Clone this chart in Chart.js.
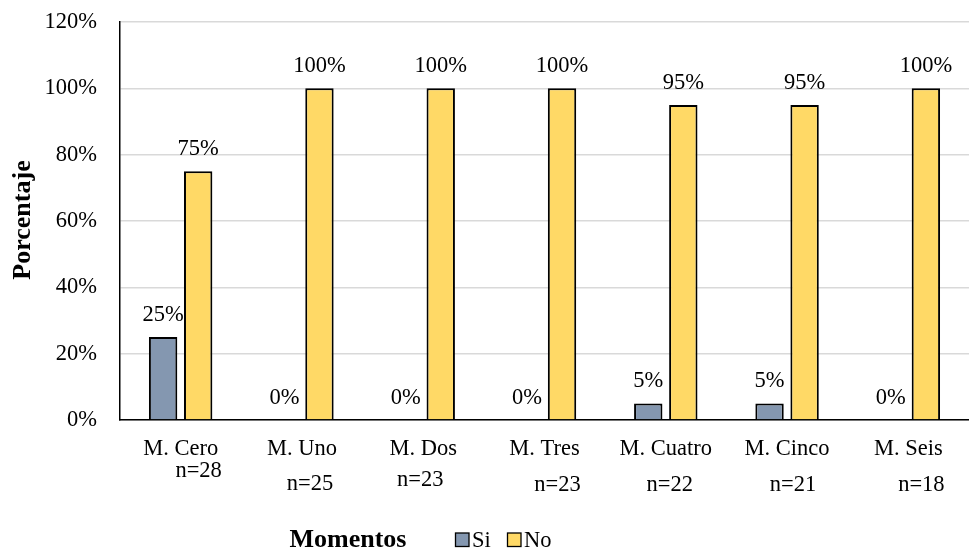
<!DOCTYPE html>
<html>
<head>
<meta charset="utf-8">
<script src="https://cdn.jsdelivr.net/npm/chart.js@4/dist/chart.umd.min.js"></script>
<style>
  html, body { margin: 0; padding: 0; background: #ffffff; }
  #wrap { width: 969px; height: 552px; position: relative; }
</style>
</head>
<body>
<div id="wrap"><canvas id="c"></canvas></div>
<script>
// Momentos y sus tamaños de muestra
const momentos = ['M. Cero', 'M. Uno', 'M. Dos', 'M. Tres', 'M. Cuatro', 'M. Cinco', 'M. Seis'];
const muestras = ['n=28', 'n=25', 'n=23', 'n=23', 'n=22', 'n=21', 'n=18'];
// Porcentajes por respuesta
const si = [25, 0, 0, 0, 5, 5, 0];
const no = [75, 100, 100, 100, 95, 95, 100];
// Marcas del eje vertical
const yMin = 0, yMax = 120, yStep = 20;

const SERIF = '"Liberation Serif", "Times New Roman", serif';
const FS = 22.5;

// Etiquetas de porcentaje sobre cada barra
const valueLabels = {
  id: 'valueLabels',
  afterDatasetsDraw(chart) {
    const ctx = chart.ctx;
    ctx.save();
    ctx.font = FS + 'px ' + SERIF;
    ctx.fillStyle = '#000';
    ctx.textAlign = 'center';
    ctx.textBaseline = 'alphabetic';
    chart.data.datasets.forEach((ds, i) => {
      chart.getDatasetMeta(i).data.forEach((bar, j) => {
        ctx.fillText(Math.round(ds.data[j]) + '%', bar.x, bar.y - 16);
      });
    });
    ctx.restore();
  }
};

// Tamaños de muestra bajo cada momento, títulos de ejes y leyenda
const extras = {
  id: 'extras',
  afterDraw(chart) {
    const ctx = chart.ctx;
    const x = chart.scales.x;
    const offs = [[18, 471], [8, 484], [-3, 480], [13, 485], [4, 485], [6, 485], [13, 485]];
    ctx.save();
    ctx.fillStyle = '#000';
    ctx.font = FS + 'px ' + SERIF;
    ctx.textAlign = 'center';
    ctx.textBaseline = 'middle';
    muestras.forEach((t, i) => {
      ctx.fillText(t, x.getPixelForValue(i) + offs[i][0], offs[i][1]);
    });

    // Título del eje Y
    ctx.font = 'bold 26px ' + SERIF;
    ctx.save();
    ctx.translate(23, 220);
    ctx.rotate(-Math.PI / 2);
    ctx.fillText('Porcentaje', 0, 0);
    ctx.restore();

    // Título del eje X
    ctx.fillText('Momentos', 348, 540);

    // Leyenda
    ctx.font = FS + 'px ' + SERIF;
    ctx.textAlign = 'left';
    let lx = 455.5;
    chart.data.datasets.forEach((ds) => {
      ctx.fillStyle = ds.backgroundColor;
      ctx.fillRect(lx, 533, 13.5, 13.5);
      ctx.strokeStyle = '#000';
      ctx.lineWidth = 1.3;
      ctx.strokeRect(lx, 533, 13.5, 13.5);
      ctx.fillStyle = '#000';
      ctx.fillText(ds.label, lx + 16.5, 541);
      lx += 52;
    });
    ctx.restore();
  }
};

new Chart(document.getElementById('c'), {
  type: 'bar',
  data: {
    labels: momentos,
    datasets: [
      { label: 'Si', data: si, backgroundColor: '#8497B0', borderColor: '#000', borderWidth: 2 },
      { label: 'No', data: no, backgroundColor: '#FFD966', borderColor: '#000', borderWidth: 2 }
    ]
  },
  options: {
    responsive: true,
    maintainAspectRatio: false,
    animation: false,
    layout: { padding: { top: 22, right: 0, left: 0, bottom: 0 } },
    datasets: { bar: { categoryPercentage: 0.578, barPercentage: 0.81 } },
    plugins: { legend: { display: false }, tooltip: { enabled: false } },
    scales: {
      x: {
        grid: { display: false, drawTicks: false },
        border: { color: '#000', width: 1.5 },
        ticks: { color: '#000', font: { family: SERIF, size: FS }, padding: 16, maxRotation: 0 },
        afterFit(s) { s.height = 132; }
      },
      y: {
        min: yMin, max: yMax,
        grid: { color: '#d9d9d9', lineWidth: 1.5, drawTicks: false },
        border: { color: '#000', width: 1.5 },
        ticks: {
          stepSize: yStep, color: '#000', padding: 23,
          font: { family: SERIF, size: FS },
          callback: v => v + '%'
        },
        afterFit(s) {
          s.width = 120;
          s.paddingTop = 0;
          s.paddingBottom = 0;
        }
      }
    }
  },
  plugins: [valueLabels, extras]
});
</script>
</body>
</html>
